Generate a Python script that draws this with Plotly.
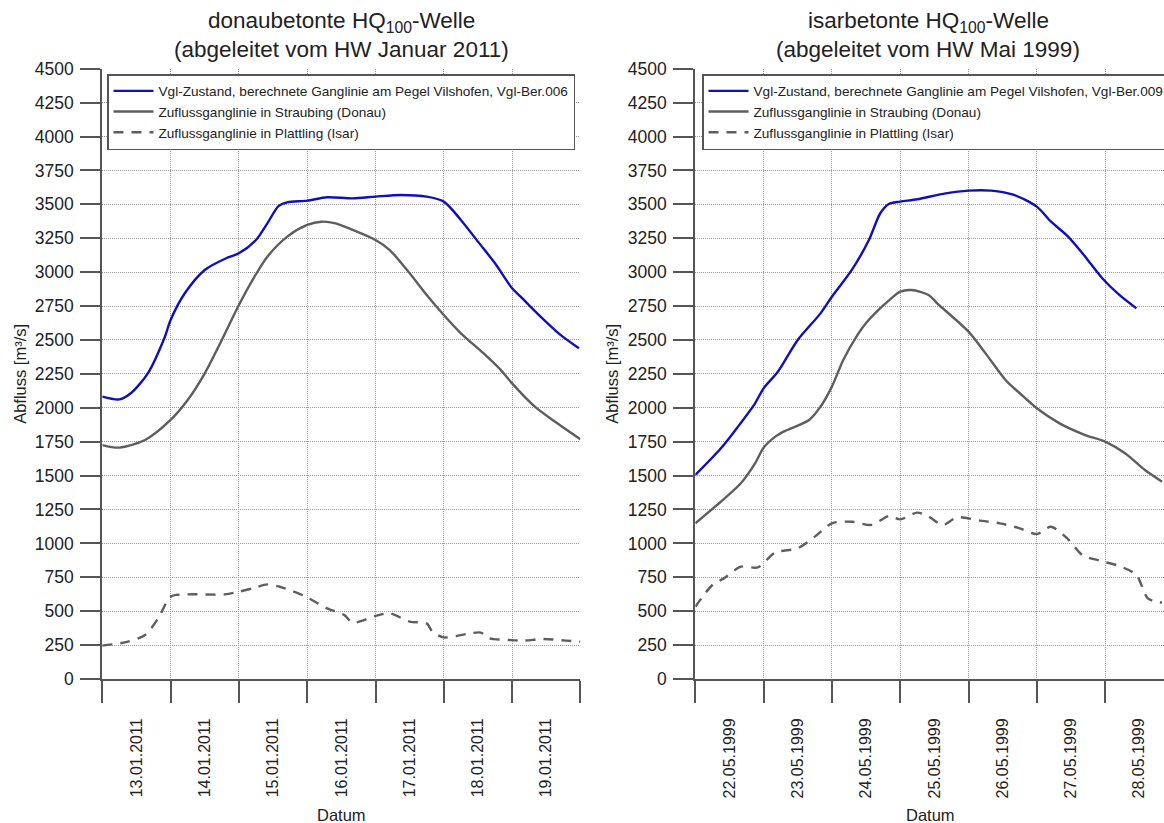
import pandas as pd
import plotly.graph_objects as go

# ---- Donau-betonte Welle (Januar 2011), hours after 13.01.2011 00:00 ----
jan_start = "2011-01-13"
jan_vils_h = [0, 6, 10, 16, 22, 24, 29, 36, 44, 48, 54, 58, 62, 65, 72, 79, 88, 96,
              105, 114, 120, 126, 132, 138, 144, 147, 154, 161, 167.5]
jan_vils_q = [2082, 2062, 2107, 2254, 2524, 2647, 2844, 3016, 3107, 3139, 3237, 3360,
              3488, 3515, 3527, 3552, 3544, 3557, 3569, 3557, 3520, 3385, 3225, 3065,
              2881, 2819, 2672, 2537, 2438]
jan_strau_h = [0, 6, 15, 24, 30, 36, 42, 48, 53.5, 58, 65, 72, 77, 82, 88, 96, 101, 108,
               114, 120, 126, 134, 140, 144, 152, 159, 168]
jan_strau_q = [1725, 1706, 1762, 1910, 2057, 2254, 2500, 2758, 2967, 3114, 3262, 3348,
               3372, 3360, 3311, 3237, 3163, 2991, 2832, 2684, 2549, 2401, 2279, 2180,
               2008, 1898, 1767]
jan_platt_h = [0, 9, 15, 20, 24, 30, 43, 48, 53, 58, 63, 71, 79, 85, 88, 96, 101, 108,
               114, 116, 120, 128, 133, 136, 143, 148, 155, 163, 168]
jan_platt_q = [246, 275, 324, 460, 607, 624, 624, 644, 669, 698, 676, 612, 521, 472, 415,
               465, 484, 423, 410, 349, 307, 332, 342, 300, 288, 283, 295, 283, 275]

# ---- Isar-betonte Welle (Mai 1999), hours after 22.05.1999 00:00 ----
mai_start = "1999-05-22"
mai_vils_h = [0, 9, 15, 21, 24, 29, 36, 44, 48, 55, 61, 65, 68, 72, 78, 88, 96, 104,
              112, 120, 125, 131, 137, 143, 149, 155]
mai_vils_q = [1504, 1701, 1861, 2033, 2143, 2266, 2500, 2696, 2819, 3016, 3237, 3434,
              3503, 3520, 3537, 3581, 3601, 3601, 3569, 3483, 3372, 3262, 3114, 2955,
              2832, 2733]
mai_strau_h = [0, 9, 16, 21, 24, 28, 31, 40, 44, 48, 52, 57, 60, 64, 68, 72, 76, 82, 85,
               96, 102, 109, 114, 120, 128, 137, 144, 151, 158, 164]
mai_strau_q = [1148, 1308, 1443, 1590, 1705, 1785, 1824, 1910, 2008, 2156, 2352, 2537,
               2625, 2715, 2790, 2856, 2868, 2832, 2770, 2561, 2401, 2205, 2107, 1996,
               1885, 1799, 1750, 1664, 1541, 1455]
mai_platt_h = [0, 6, 10, 16, 22, 28, 36, 42, 48, 55, 62, 68, 72, 78, 82, 87, 92, 100,
               107, 114, 120, 125, 131, 136, 142, 149, 155, 159, 164]
mai_platt_q = [533, 693, 742, 828, 823, 932, 964, 1050, 1148, 1160, 1136, 1202, 1177,
               1227, 1197, 1136, 1192, 1168, 1148, 1111, 1069, 1123, 1030, 914, 873, 833,
               767, 595, 563]

names_jan = ["Vgl-Zustand, berechnete Ganglinie am Pegel Vilshofen, Vgl-Ber.006",
             "Zuflussganglinie in Straubing (Donau)",
             "Zuflussganglinie in Plattling (Isar)"]
names_mai = ["Vgl-Zustand, berechnete Ganglinie am Pegel Vilshofen, Vgl-Ber.009",
             "Zuflussganglinie in Straubing (Donau)",
             "Zuflussganglinie in Plattling (Isar)"]
titles = [("donaubetonte HQ<sub>100</sub>-Welle", "(abgeleitet vom HW Januar 2011)"),
          ("isarbetonte HQ<sub>100</sub>-Welle", "(abgeleitet vom HW Mai 1999)")]


def to_time(start, hours):
    return pd.Timestamp(start) + pd.to_timedelta(hours, unit="h")


W, H = 1164, 823
FONT = "Liberation Sans, Arial, Helvetica, sans-serif"
BLUE = "#1010b8"
GREY = "#5e5e5e"
AX = "#555555"
GRID = "#9a9a9a"

fig = go.Figure()

panels = [
    ("x", "y", "legend", jan_start,
     [(jan_vils_h, jan_vils_q), (jan_strau_h, jan_strau_q), (jan_platt_h, jan_platt_q)],
     names_jan),
    ("x2", "y2", "legend2", mai_start,
     [(mai_vils_h, mai_vils_q), (mai_strau_h, mai_strau_q), (mai_platt_h, mai_platt_q)],
     names_mai),
]
styles = [dict(color=BLUE, width=2.4), dict(color=GREY, width=2.4),
          dict(color=GREY, width=2.4, dash="10px,8px")]

for xa, ya, lg, start, series, names in panels:
    for (h, q), name, st in zip(series, names, styles):
        fig.add_trace(go.Scatter(
            x=to_time(start, h), y=q, mode="lines", name=name,
            line=dict(shape="spline", smoothing=0.8, **st),
            xaxis=xa, yaxis=ya, legend=lg))

# plot areas in pixels
ytop, ybot = 68.7, 679.0
xl0, xl1 = 102.3, 580.4
xr0 = 695.3
day_px = 68.3
ydom = [(H - ybot) / H, (H - ytop) / H]

xcommon = dict(
    type="date", dtick=86400000, tickformat="%d.%m.%Y", ticklabelmode="period",
    tickangle=-90, ticks="outside", ticklen=22, tickwidth=1.5, tickcolor=AX,
    showline=True, linecolor=AX, linewidth=2, showgrid=True, gridcolor=GRID,
    griddash="1px,1px", gridwidth=1, zeroline=False, ticklabelstandoff=9,
    tickfont=dict(family=FONT, size=16, color="#222"), automargin=False,
)
ycommon = dict(
    range=[0, 4500], dtick=250, ticks="outside", ticklen=20, tickwidth=1.5,
    tickcolor=AX, showline=True, linecolor=AX, linewidth=2, showgrid=True,
    gridcolor=GRID, griddash="1px,1px", gridwidth=1, zeroline=False,
    tickfont=dict(family=FONT, size=17.5, color="#222"), automargin=False,
    ticklabelstandoff=3,
)

end_right = pd.Timestamp(mai_start) + pd.to_timedelta((W - xr0) / day_px, unit="D")

legend_common = dict(xanchor="left", yanchor="top", bgcolor="white",
                     bordercolor=AX, borderwidth=1.5, itemwidth=40,
                     font=dict(family=FONT, size=13.6, color="#222"))

fig.update_layout(
    width=W, height=H, autosize=False,
    margin=dict(l=0, r=0, t=0, b=0, autoexpand=False),
    paper_bgcolor="white", plot_bgcolor="white",
    font=dict(family=FONT, color="#222"),
    xaxis=dict(domain=[xl0 / W, xl1 / W], anchor="y",
               range=[pd.Timestamp(jan_start), pd.Timestamp("2011-01-20")], **xcommon),
    yaxis=dict(domain=ydom, anchor="x", **ycommon),
    xaxis2=dict(domain=[xr0 / W, 1.0], anchor="y2",
                range=[pd.Timestamp(mai_start), end_right], **xcommon),
    yaxis2=dict(domain=ydom, anchor="x2", **ycommon),
    legend=dict(x=107 / W, y=(H - 74) / H, **legend_common),
    legend2=dict(x=702 / W, y=(H - 74) / H, **legend_common),
    showlegend=True,
)

ann = []
for cx, (t1, t2) in zip([341, 928], titles):
    ann.append(dict(text=t1, x=cx / W, y=(H - 22) / H, xref="paper", yref="paper",
                    showarrow=False, xanchor="center", yanchor="middle",
                    font=dict(family=FONT, size=22.5, color="#222")))
    ann.append(dict(text=t2, x=cx / W, y=(H - 49) / H, xref="paper", yref="paper",
                    showarrow=False, xanchor="center", yanchor="middle",
                    font=dict(family=FONT, size=22.5, color="#222")))
for cx in [341, 930]:
    ann.append(dict(text="Datum", x=cx / W, y=(H - 815) / H, xref="paper", yref="paper",
                    showarrow=False, xanchor="center", yanchor="middle",
                    font=dict(family=FONT, size=16.5, color="#222")))
for cx in [20, 612]:
    ann.append(dict(text="Abfluss [m³/s]", textangle=-90, x=cx / W,
                    y=(H - (ytop + ybot) / 2) / H, xref="paper", yref="paper",
                    showarrow=False, xanchor="center", yanchor="middle",
                    font=dict(family=FONT, size=16.5, color="#222")))
fig.update_layout(annotations=ann)

fig.write_html("out.html")
